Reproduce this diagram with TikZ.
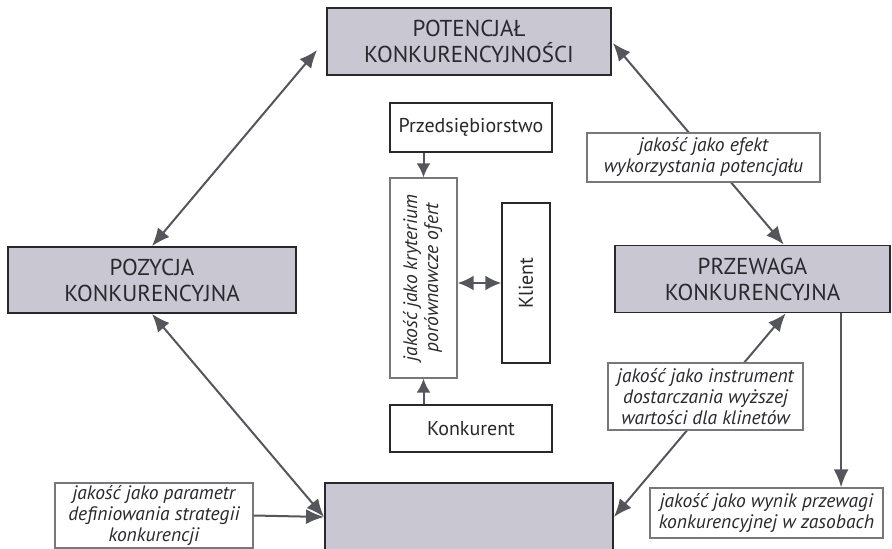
\documentclass[tikz,border=0pt]{standalone}
\usepackage{fontspec}
\usepackage{graphicx}
\setmainfont{PT Sans}
\usetikzlibrary{arrows.meta,calc,backgrounds}
\definecolor{boxfill}{RGB}{201,199,210}
\definecolor{boxline}{RGB}{40,40,45}
\definecolor{arrcol}{RGB}{85,85,92}
\definecolor{lablinecol}{RGB}{120,120,124}
\definecolor{txtcol}{RGB}{40,40,45}
\begin{document}
\begin{tikzpicture}[x=1pt,y=-1pt,
  bigbox/.style={draw=boxline, line width=1.8pt, fill=boxfill, align=center,
    text=txtcol, font=\fontsize{23}{26}\selectfont, inner sep=0pt},
  labbox/.style={draw=lablinecol, line width=1.4pt, fill=white, align=center,
    text=txtcol, font=\fontsize{19.5}{21}\selectfont\itshape, inner sep=0pt},
  smallbox/.style={draw=boxline, line width=1.5pt, fill=white, align=center,
    text=txtcol, font=\fontsize{20}{22}\selectfont, inner sep=0pt},
  bigarrow/.style={draw=arrcol, line width=2pt, -{Latex[length=18pt,width=15pt]}},
  bigdarrow/.style={draw=arrcol, line width=2pt, {Latex[length=18pt,width=15pt]}-{Latex[length=18pt,width=15pt]}},
  smallarrow/.style={draw=arrcol, line width=2pt, -{Latex[length=14pt,width=14pt]}},
  smalldarrow/.style={draw=arrcol, line width=2pt, {Latex[length=16pt,width=15pt]}-{Latex[length=16pt,width=15pt]}}
]
\useasboundingbox (0,0) rectangle (892,549);

% main boxes
\node[bigbox, minimum width=284pt, minimum height=67pt] (top) at (469,41.5) {POTENCJAŁ\\KONKURENCYJNOŚCI};
\node[bigbox, minimum width=288pt, minimum height=66pt] (left) at (152,280) {POZYCJA\\KONKURENCYJNA};
\node[bigbox, minimum width=275pt, minimum height=67pt] (prz) at (752.5,279) {PRZEWAGA\\KONKURENCYJNA};
\node[bigbox, minimum width=288pt, minimum height=68pt] (bot) at (469,517) {};

% label boxes
\node[labbox, minimum width=233pt, minimum height=49pt] (efekt) at (703.5,157.5) {jakość jako efekt\\wykorzystania potencjału};
\node[labbox, minimum width=195pt, minimum height=67pt] (instr) at (705.5,396.5) {jakość jako instrument\\dostarczania wyższej\\wartości dla klinetów};
\node[labbox, minimum width=233pt, minimum height=50pt] (wynik) at (766.5,513) {jakość jako wynik przewagi\\konkurencyjnej w zasobach};
\node[labbox, minimum width=198pt, minimum height=65pt] (param) at (154,515.5) {jakość jako parametr\\definiowania strategii\\konkurencji};

% central boxes
\node[smallbox, minimum width=162pt, minimum height=49pt] (przed) at (471,127.5) {Przedsiębiorstwo};
\node[labbox, minimum width=67pt, minimum height=200pt] (crit) at (423.5,278)
  {\rotatebox{90}{\begin{tabular}{@{}c@{}}jakość jako kryterium\\porównawcze ofert\end{tabular}}};
\node[smallbox, minimum width=48pt, minimum height=160pt] (klient) at (526,283) {\rotatebox{90}{Klient}};
\node[smallbox, minimum width=162pt, minimum height=47pt] (konk) at (471,428.5) {Konkurent};

% connectors
\begin{scope}[on background layer]
  \draw[bigdarrow] ($(top.east)+(1,1.5)$) -- ($(prz.north west)!0.613!(prz.north east)$);
  \draw[bigdarrow] ($(prz.south west)!0.62!(prz.south east)$) -- (bot.east);
\end{scope}
\draw[bigdarrow] ($(top.west)+(-9,8.5)$) -- (left.north);
\draw[bigdarrow] (left.south) -- (bot.west);
\draw[bigarrow] (param.east) -- (bot.west);
\coordinate (vstart) at ($(prz.south west)!0.82!(prz.south east)$);
\draw[bigarrow] (vstart) -- (vstart |- wynik.north);
\draw[smallarrow] (przed.south -| crit.north) -- (crit.north);
\draw[smallarrow] (konk.north -| crit.south) -- (crit.south);
\draw[smalldarrow] (crit.east |- klient.west) -- (klient.west);
\end{tikzpicture}
\end{document}
